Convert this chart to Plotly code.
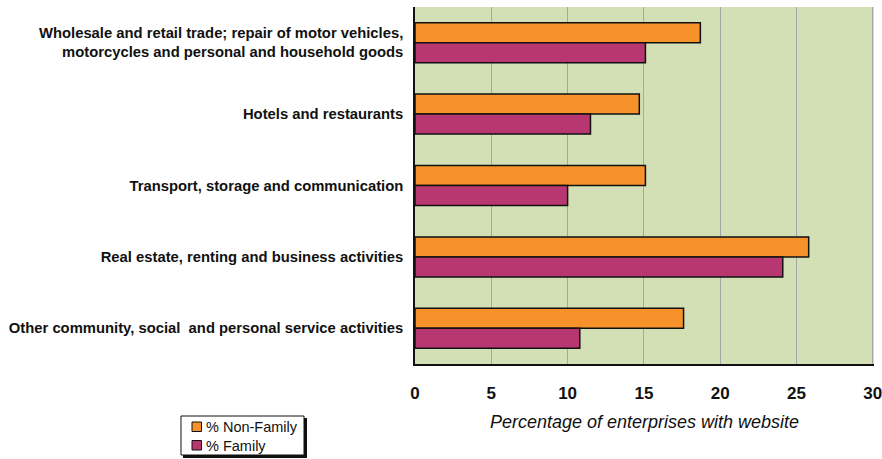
import plotly.graph_objects as go

categories = [
    "Wholesale and retail trade; repair of motor vehicles,<br>motorcycles and personal and household goods",
    "Hotels and restaurants",
    "Transport, storage and communication",
    "Real estate, renting and business activities",
    "Other community, social  and personal service activities",
]
series_names = ["% Non-Family", "% Family"]
non_family = [18.7, 14.7, 15.1, 25.8, 17.6]
family = [15.1, 11.5, 10.0, 24.1, 10.8]
x_ticks = [0, 5, 10, 15, 20, 25, 30]

FONT = "Liberation Sans, Arial, sans-serif"
COLORS = ["#f7922a", "#b83770"]
GRID = "#a6a6a6"
W, H = 882, 459
L, R, T, B = 415, 8, 7, 95
PW, PH = W - L - R, H - T - B


def px(x):
    return (x - L) / PW


def py(y):
    return (H - B - y) / PH


fig = go.Figure()
for name, vals, col in zip(series_names, [non_family, family], COLORS):
    fig.add_trace(go.Bar(
        y=categories, x=vals, orientation="h", name=name,
        marker=dict(color=col, line=dict(color="#111111", width=1.5)),
    ))

shapes = [
    # boxed legend with a small drop shadow
    dict(type="rect", xref="paper", yref="paper",
         x0=px(183), x1=px(307), y0=py(418), y1=py(458),
         fillcolor="#111111", line=dict(width=0), layer="above"),
    dict(type="rect", xref="paper", yref="paper",
         x0=px(181), x1=px(304), y0=py(416), y1=py(455),
         fillcolor="white", line=dict(color="#111111", width=1), layer="above"),
]
annotations = []
for i, (name, col) in enumerate(zip(series_names, COLORS)):
    top = 422 + i * 18.5
    shapes.append(dict(type="rect", xref="paper", yref="paper",
                       x0=px(192), x1=px(201.5), y0=py(top), y1=py(top + 9.5),
                       fillcolor=col, line=dict(color="#111111", width=1),
                       layer="above"))
    annotations.append(dict(xref="paper", yref="paper", x=px(204), y=py(top + 5),
                            xanchor="left", yanchor="middle", showarrow=False,
                            text=name, font=dict(family=FONT, size=14.5,
                                                 color="#111111")))

fig.update_layout(
    width=W, height=H,
    margin=dict(l=L, r=R, t=T, b=B, autoexpand=False),
    paper_bgcolor="white",
    plot_bgcolor="#d3dfb5",
    barmode="group",
    bargap=0.44,
    bargroupgap=0,
    font=dict(family=FONT, color="#111111"),
    showlegend=False,
    shapes=shapes,
    annotations=annotations,
    xaxis=dict(
        # a hair past 30 so the last gridline is drawn inside the plot
        range=[0, 30.08], tickvals=x_ticks, ticktext=[str(v) for v in x_ticks],
        showgrid=True, gridcolor=GRID, gridwidth=1,
        zeroline=False, showline=True, linecolor="#111111", linewidth=2,
        ticks="", ticklabelstandoff=13, automargin=False,
        ticklabeloverflow="allow",
        tickfont=dict(family=FONT, size=17, color="#111111", weight="bold"),
        title=dict(text="<i>Percentage of enterprises with website</i>",
                   font=dict(family=FONT, size=18, color="#111111"), standoff=13),
        fixedrange=True,
    ),
    yaxis=dict(
        autorange="reversed", showgrid=False, zeroline=False,
        showline=True, linecolor="#111111", linewidth=1.5,
        ticks="", ticklabelstandoff=7, automargin=False,
        tickfont=dict(family=FONT, size=14.8, color="#111111", weight="bold"),
        fixedrange=True,
    ),
)

fig.write_html("out.html")
